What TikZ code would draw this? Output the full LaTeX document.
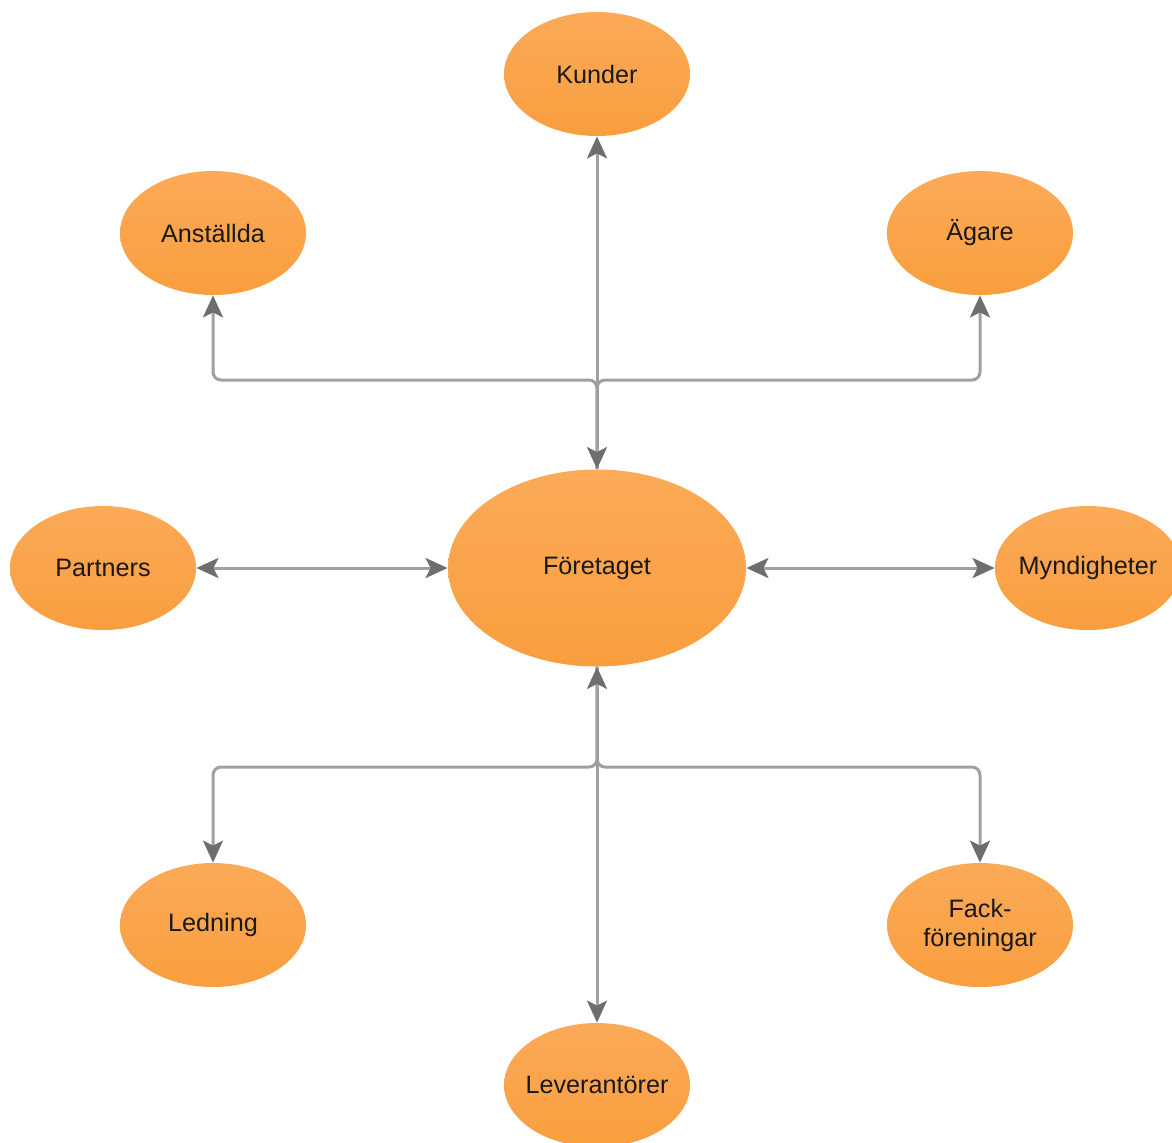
\documentclass[tikz,border=0pt]{standalone}
\usepackage{fontspec}
\setmainfont{Liberation Sans}
\usetikzlibrary{shapes.geometric,arrows.meta}
\definecolor{orangetop}{HTML}{FBAA58}
\definecolor{orangebot}{HTML}{F99E3E}
\definecolor{linegray}{HTML}{A0A0A0}
\definecolor{tipgray}{HTML}{6E6E6E}
\tikzset{
  party/.style={ellipse, draw=none, top color=orangetop, bottom color=orangebot,
    minimum width=93pt, minimum height=62pt, inner sep=0pt,
    label={[align=center, font=\fontsize{12.6}{14.5}\selectfont, text=black!90]center:#1}},
  hub/.style={party=#1, minimum width=149pt, minimum height=98.5pt},
  conn/.style={draw=linegray, line width=1.5pt, rounded corners=4pt,
    >={Stealth[length=11pt,width=10pt,inset=2.5pt,color=tipgray]}},
  both/.style={conn, <->},
  single/.style={conn, ->}
}
\begin{document}
\begin{tikzpicture}[x=0.5pt,y=-0.5pt]
  \useasboundingbox (0,0) rectangle (1172,1142);
  \clip (0,0) rectangle (1172,1142);

  % stakeholders around the company
  \node[hub={Företaget}]        (foer) at (597,568)  {};
  \node[party={Kunder}]         (kund) at (597,74)   {};
  \node[party={Anställda}]      (anst) at (213,233)  {};
  \node[party={Ägare}]          (agar) at (980,233)  {};
  \node[party={Partners}]       (part) at (103,568)  {};
  \node[party={Myndigheter}]    (mynd) at (1088,568) {};
  \node[party={Ledning}]        (ledn) at (213,925)  {};
  \node[party={Fack-\\föreningar}] (fack) at (980,925) {};
  \node[party={Leverantörer}]   (leve) at (597,1085) {};

  % bus rails above and below the company
  \coordinate (topbus) at (0,380);
  \coordinate (botbus) at (0,767);

  % upper branches
  \draw[single] (foer.north) -- (foer.north |- topbus) -- (anst.south |- topbus) -- (anst.south);
  \draw[single] (foer.north) -- (foer.north |- topbus) -- (agar.south |- topbus) -- (agar.south);
  \draw[both] (foer.north) -- (kund.south);

  % lower branches
  \draw[single] (foer.south) -- (foer.south |- botbus) -- (ledn.north |- botbus) -- (ledn.north);
  \draw[single] (foer.south) -- (foer.south |- botbus) -- (fack.north |- botbus) -- (fack.north);
  \draw[both] (foer.south) -- (leve.north);

  % side links
  \draw[both] (part.east) -- (foer.west);
  \draw[both] (foer.east) -- (mynd.west);
\end{tikzpicture}
\end{document}
